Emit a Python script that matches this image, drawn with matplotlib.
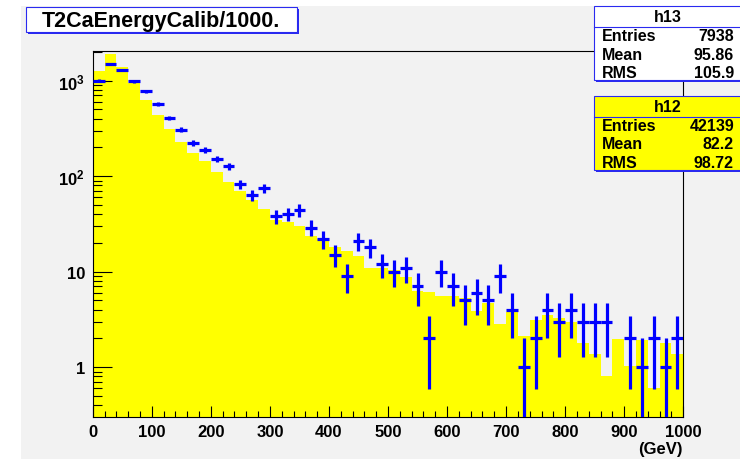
import numpy as np
import matplotlib
matplotlib.use("Agg")
import matplotlib.pyplot as plt
from matplotlib.patches import Rectangle
from matplotlib.ticker import FixedLocator, LogLocator, NullFormatter, MultipleLocator

plt.rcParams['font.family'] = ['Liberation Sans', 'DejaVu Sans']
plt.rcParams['font.weight'] = 'bold'
plt.rcParams['mathtext.fontset'] = 'custom'
plt.rcParams['mathtext.rm'] = 'Liberation Sans:bold'
plt.rcParams['mathtext.bf'] = 'Liberation Sans:bold'
plt.rcParams['mathtext.it'] = 'Liberation Sans:bold'

# 50 bins of 20 GeV from 0 to 1000
bin_edges = np.arange(0, 1001, 20)

# h12 (yellow, scaled histogram)
h12_values = [1273, 1903, 1401, 939, 628, 435, 312, 230, 176, 143,
              111, 87.6, 70.5, 56.4, 45.4, 35, 33, 29.9, 23.8, 22,
              18, 16.6, 14.7, 10.9, 10.8, 10.5, 8.8, 6.3, 6.1, 5.5,
              5.5, 5.3, 3.9, 4.7, 2.8, 3.8, 2.1, 3.1, 3.5, 3.3,
              3.0, 1.78, 1.37, 0.80, 1.97, 1.02, 1.94, 0.60, 1.8, 1.37]

# h13 (blue points, raw counts)
h13_counts = [1000, 1496, 1304, 986, 774, 570, 410, 307, 223, 188,
              152, 127, 83, 63, 75, 38, 40, 44, 29, 22,
              15, 9, 21, 18, 12, 10, 11, 7, 2, 10,
              7, 5, 6, 5, 9, 4, 1, 2, 4, 3,
              4, 3, 3, 3, 0, 2, 1, 2, 1, 2]

h13_stats = [("Entries", "7938"), ("Mean", "95.86"), ("RMS", "105.9")]
h12_stats = [("Entries", "42139"), ("Mean", "82.2"), ("RMS", "98.72")]

y_ticks = [1, 10, 100, 1000]
y_tick_labels = ["1", "10", r"$10^{2}$", r"$10^{3}$"]

W, H = 740, 460
canvas_gray = "#f2f2f2"
blue = "#0000ff"
box_blue = "#2a2af0"

fig = plt.figure(figsize=(W / 100, H / 100), dpi=100, facecolor="white")

# canvas background (white margin at top/left)
bg = fig.add_axes([0, 0, 1, 1])
bg.set_xlim(0, W)
bg.set_ylim(H, 0)
bg.axis("off")
bg.add_patch(Rectangle((21, 7), W - 21, H - 7, facecolor=canvas_gray, edgecolor="none"))

# main frame
left, right, top, bottom = 92.7, 683.3, 51.7, 418.0
ax = fig.add_axes([left / W, (H - bottom) / H, (right - left) / W, (bottom - top) / H])
ax.set_facecolor("none")
ax.set_yscale("log")
ax.set_xlim(0, 1000)
ax.set_ylim(0.301, 2060)

ax.stairs(h12_values, bin_edges, fill=True, baseline=1e-3, color="#ffff00", zorder=1)

counts = np.array(h13_counts, dtype=float)
centers = (bin_edges[:-1] + bin_edges[1:]) / 2
keep = counts > 0
err = np.sqrt(counts[keep])
lo = np.minimum(err, counts[keep] - 1e-4)
ax.errorbar(centers[keep], counts[keep], xerr=10, yerr=[lo, err], fmt="none",
            ecolor=blue, elinewidth=2.3, capsize=0, zorder=3)

for s in ax.spines.values():
    s.set_color("black")
    s.set_linewidth(0.8)

ax.xaxis.set_major_locator(MultipleLocator(100))
ax.xaxis.set_minor_locator(MultipleLocator(20))
ax.yaxis.set_major_locator(FixedLocator(y_ticks))
ax.set_yticklabels(y_tick_labels)
ax.yaxis.set_minor_locator(LogLocator(base=10, subs=np.arange(2, 10), numticks=20))
ax.yaxis.set_minor_formatter(NullFormatter())
ax.tick_params(which="both", direction="in", top=False, right=False, width=0.8,
               labelsize=12, colors="black")
ax.tick_params(axis="y", which="major", length=13.5, pad=5.5)
ax.tick_params(axis="y", which="minor", length=6.5)
ax.tick_params(axis="x", which="major", length=8, pad=5)
ax.tick_params(axis="x", which="minor", length=4.3)

# overlay for title and stats boxes
ov = fig.add_axes([0, 0, 1, 1])
ov.set_xlim(0, W)
ov.set_ylim(H, 0)
ov.axis("off")

ov.text(683, 450, "(GeV)", ha="right", va="center", fontsize=12, fontweight="bold")

# title box
tx, ty, tw, th = 25.7, 7.7, 271, 25
ov.add_patch(Rectangle((tx + 2, ty + 2), tw, th, facecolor=box_blue, edgecolor="none"))
ov.add_patch(Rectangle((tx, ty), tw, th, facecolor="white", edgecolor=box_blue, linewidth=0.8))
ov.text(tx + tw / 2, 27.5, "T2CaEnergyCalib/1000.", ha="center", va="baseline",
        fontsize=15.5, fontweight="bold")


def stats_box(y0, name, rows, face):
    bx, bw, bh = 594, 150, 73.4
    ov.add_patch(Rectangle((bx + 2, y0 + 2), bw, bh, facecolor=box_blue, edgecolor="none"))
    ov.add_patch(Rectangle((bx, y0), bw, bh, facecolor=face, edgecolor=box_blue, linewidth=0.8))
    ov.text(667.5, y0 + 15, name, ha="center", va="baseline", fontsize=11.5, fontweight="bold")
    ov.plot([bx, bx + bw], [y0 + 20.4, y0 + 20.4], color=box_blue, linewidth=0.8)
    for i, (label, val) in enumerate(rows):
        yb = y0 + 33.7 + i * 18.5
        ov.text(601.7, yb, label, ha="left", va="baseline", fontsize=11.5, fontweight="bold")
        ov.text(734, yb, val, ha="right", va="baseline", fontsize=11.5, fontweight="bold")


stats_box(7.3, "h13", h13_stats, "white")
stats_box(97.3, "h12", h12_stats, "#ffff00")

fig.savefig("out.png", dpi=100, facecolor="white")
